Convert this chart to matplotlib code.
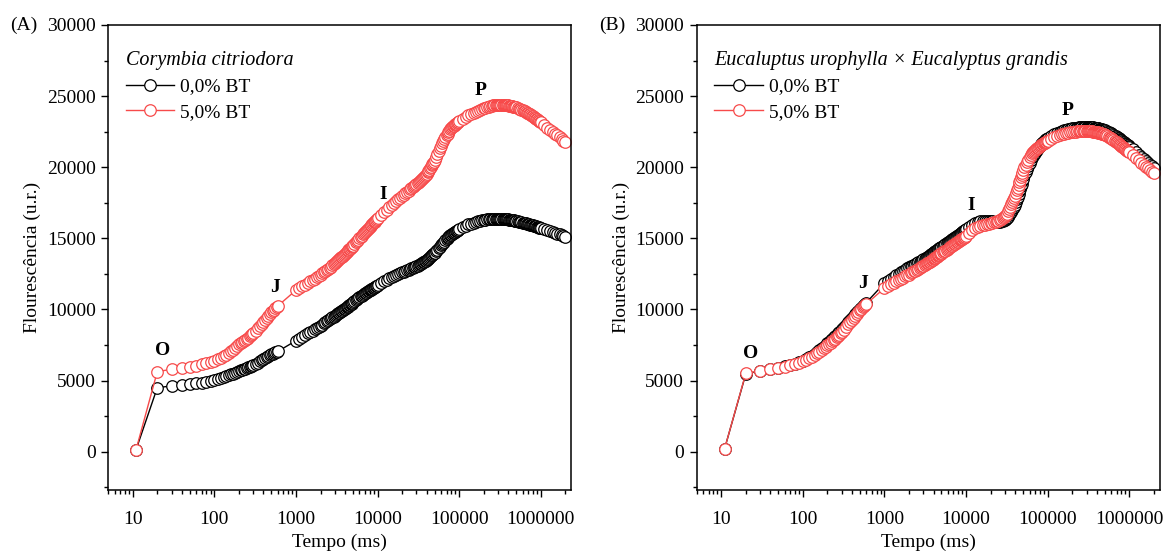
import numpy as np
import matplotlib.pyplot as plt
from matplotlib.ticker import MultipleLocator, LogLocator, FuncFormatter, NullFormatter

plt.rcParams['font.family'] = ['Liberation Serif', 'DejaVu Serif']
plt.rcParams['font.size'] = 14
plt.rcParams['mathtext.default'] = 'regular'

# sampling schedule of the fluorometer (ms)
t_ms = np.concatenate([[11], np.arange(20, 301, 10), np.arange(320, 601, 20),
                       np.arange(1000, 5001, 100), np.arange(5200, 10001, 200),
                       np.arange(11000, 50001, 1000), np.arange(52000, 100001, 2000),
                       np.arange(110000, 500001, 10000), np.arange(520000, 1000001, 20000),
                       np.arange(1100000, 2000001, 100000)])

# (A) Corymbia citriodora, 0,0% BT
a_bt0 = [150, 4500, 4620, 4690, 4750, 4800, 4860, 4920, 4980, 5050, 5120, 5190, 5250, 5310, 5370,
         5430, 5490, 5550, 5610, 5670, 5720, 5760, 5800, 5840, 5880, 5920, 5960, 6000, 6040, 6080,
         6170, 6260, 6350, 6440, 6520, 6590, 6660, 6720, 6780, 6840, 6890, 6940, 6980, 7020, 7050,
         7800, 7940, 8080, 8200, 8310, 8420, 8510, 8610, 8690, 8780, 8850, 8940, 9020, 9100, 9170,
         9240, 9310, 9370, 9440, 9500, 9560, 9610, 9670, 9730, 9770, 9830, 9870, 9920, 9970, 10010,
         10060, 10110, 10150, 10200, 10240, 10290, 10330, 10370, 10410, 10460, 10500,
         10570, 10640, 10720, 10780, 10850, 10910, 10970, 11030, 11080, 11130, 11180, 11230, 11270,
         11320, 11360, 11400, 11430, 11470, 11500, 11540, 11570, 11610, 11640, 11670, 11700,
         11840, 11980, 12090, 12190, 12280, 12360, 12430, 12490, 12550, 12600,
         12660, 12710, 12760, 12800, 12850, 12890, 12930, 12970, 13000, 13040,
         13080, 13120, 13170, 13210, 13250, 13300, 13340, 13380, 13420, 13460,
         13520, 13580, 13630, 13690, 13740, 13800, 13850, 13900, 13950, 13990,
         14100, 14210, 14310, 14410, 14510, 14600, 14690, 14770, 14850, 14920, 14990, 15060, 15140,
         15200, 15260, 15310, 15350, 15390, 15430, 15470, 15510, 15540, 15580, 15610, 15650,
         15770, 15890, 15980, 16040, 16100, 16160, 16200, 16230, 16270, 16300,
         16320, 16330, 16340, 16360, 16370, 16370, 16370, 16380, 16380, 16380,
         16380, 16380, 16370, 16360, 16360, 16350, 16350, 16340, 16330, 16330,
         16320, 16310, 16300, 16290, 16280, 16270, 16260, 16250, 16240, 16230,
         16210, 16180, 16160, 16140, 16110, 16090, 16070, 16050, 16030, 16010, 15990, 15970, 15950,
         15930, 15910, 15890, 15870, 15860, 15840, 15820, 15800, 15780, 15760, 15750, 15730,
         15640, 15560, 15490, 15430, 15380, 15320, 15270, 15210, 15160, 15120]

# (A) Corymbia citriodora, 5,0% BT
a_bt5 = [150, 5630, 5790, 5870, 5950, 6040, 6130, 6220, 6300, 6380, 6490, 6600, 6710, 6820, 6930,
         7060, 7180, 7300, 7420, 7540, 7620, 7700, 7780, 7860, 7940, 8020, 8100, 8180, 8250, 8320,
         8490, 8660, 8830, 8990, 9140, 9280, 9420, 9550, 9670, 9790, 9890, 9990, 10080, 10170, 10250,
         11350, 11490, 11630, 11750, 11860, 11970, 12070, 12170, 12270, 12370, 12450, 12540, 12620,
         12700, 12770, 12840, 12930, 13000, 13090, 13160, 13240, 13300, 13380, 13450, 13520, 13590,
         13660, 13720, 13790, 13850, 13910, 13980, 14040, 14100, 14160, 14220, 14280, 14330, 14390,
         14440, 14490,
         14600, 14710, 14810, 14910, 15010, 15100, 15190, 15280, 15360, 15440, 15520, 15600, 15680,
         15750, 15820, 15880, 15940, 16000, 16060, 16120, 16180, 16240, 16290, 16350, 16400,
         16630, 16830, 17020, 17180, 17330, 17470, 17600, 17730, 17850, 17960,
         18060, 18160, 18260, 18350, 18440, 18520, 18590, 18660, 18730, 18800,
         18860, 18930, 19010, 19090, 19160, 19240, 19310, 19380, 19450, 19520,
         19630, 19730, 19830, 19930, 20030, 20130, 20220, 20310, 20400, 20490,
         20710, 20920, 21120, 21320, 21510, 21700, 21860, 21990, 22110, 22230, 22340, 22460, 22570,
         22670, 22770, 22820, 22870, 22920, 22970, 23020, 23070, 23120, 23160, 23210, 23250,
         23390, 23530, 23640, 23740, 23830, 23910, 23980, 24040, 24100, 24150,
         24190, 24230, 24260, 24290, 24330, 24340, 24350, 24360, 24370, 24380,
         24390, 24400, 24390, 24380, 24380, 24370, 24370, 24360, 24350, 24350,
         24330, 24320, 24300, 24290, 24270, 24260, 24240, 24230, 24210, 24200,
         24160, 24120, 24080, 24040, 24000, 23970, 23930, 23880, 23830, 23790, 23750, 23710, 23670,
         23630, 23590, 23540, 23490, 23450, 23400, 23360, 23310, 23270, 23230, 23190, 23150,
         22970, 22790, 22640, 22490, 22360, 22230, 22100, 21980, 21860, 21750]

# (B) E. urophylla x E. grandis, 0,0% BT
b_bt0 = [200, 5460, 5680, 5790, 5900, 5990, 6080, 6180, 6280, 6390, 6510, 6630, 6760, 6890, 7020,
         7140, 7260, 7380, 7500, 7610, 7720, 7830, 7930, 8030, 8130, 8230, 8320, 8410, 8500, 8590,
         8770, 8940, 9110, 9270, 9420, 9560, 9690, 9810, 9920, 10020, 10120, 10210, 10300, 10390, 10480,
         11850, 12010, 12170, 12300, 12410, 12520, 12610, 12710, 12790, 12880, 12950, 13020, 13080,
         13140, 13190, 13240, 13300, 13360, 13410, 13470, 13520, 13570, 13620, 13680, 13720, 13780,
         13820, 13870, 13920, 13960, 14010, 14050, 14090, 14130, 14170, 14210, 14250, 14290, 14320,
         14360, 14400,
         14460, 14530, 14590, 14650, 14710, 14770, 14820, 14880, 14930, 14980, 15030, 15080, 15120,
         15170, 15210, 15260, 15310, 15350, 15400, 15440, 15490, 15530, 15570, 15610, 15650,
         15810, 15970, 16080, 16140, 16200, 16250, 16240, 16220, 16210, 16200,
         16190, 16180, 16170, 16160, 16150, 16180, 16210, 16240, 16270, 16300,
         16330, 16400, 16530, 16640, 16770, 16880, 17000, 17110, 17210, 17340,
         17550, 17740, 17930, 18120, 18310, 18500, 18670, 18840, 19010, 19180,
         19430, 19660, 19900, 20110, 20330, 20530, 20700, 20820, 20930, 21030, 21130, 21240, 21340,
         21430, 21520, 21580, 21630, 21690, 21740, 21800, 21850, 21900, 21950, 22000, 22050,
         22190, 22330, 22430, 22490, 22550, 22610, 22650, 22680, 22720, 22750,
         22770, 22780, 22790, 22810, 22820, 22820, 22820, 22820, 22830, 22830,
         22830, 22830, 22820, 22810, 22800, 22800, 22790, 22780, 22780, 22770,
         22750, 22730, 22710, 22700, 22680, 22660, 22650, 22630, 22620, 22600,
         22550, 22500, 22460, 22410, 22370, 22320, 22280, 22220, 22170, 22120, 22070, 22020, 21980,
         21930, 21890, 21840, 21790, 21750, 21700, 21660, 21610, 21570, 21530, 21490, 21450,
         21250, 21060, 20880, 20720, 20570, 20430, 20300, 20180, 20060, 19950]

# (B) E. urophylla x E. grandis, 5,0% BT
b_bt5 = [200, 5500, 5690, 5790, 5900, 5980, 6070, 6160, 6250, 6350, 6460, 6570, 6690, 6810, 6930,
         7040, 7150, 7260, 7370, 7470, 7570, 7670, 7770, 7860, 7950, 8040, 8130, 8220, 8310, 8400,
         8580, 8760, 8950, 9120, 9280, 9430, 9570, 9700, 9820, 9940, 10050, 10150, 10230, 10310, 10380,
         11500, 11640, 11780, 11890, 11990, 12080, 12160, 12240, 12320, 12390, 12450, 12530, 12600,
         12670, 12730, 12790, 12850, 12910, 12960, 13020, 13070, 13120, 13170, 13230, 13270, 13330,
         13370, 13420, 13470, 13510, 13560, 13600, 13640, 13680, 13720, 13760, 13800, 13840, 13870,
         13910, 13950,
         14010, 14080, 14140, 14200, 14260, 14320, 14370, 14430, 14480, 14530, 14580, 14630, 14670,
         14720, 14760, 14810, 14850, 14890, 14930, 14970, 15010, 15040, 15080, 15110, 15150,
         15380, 15580, 15730, 15800, 15870, 15930, 15960, 15990, 16020, 16050,
         16090, 16120, 16160, 16190, 16220, 16280, 16350, 16420, 16490, 16550,
         16610, 16720, 16900, 17050, 17220, 17380, 17530, 17690, 17830, 17990,
         18190, 18380, 18560, 18750, 18930, 19120, 19280, 19450, 19620, 19780,
         19980, 20170, 20350, 20520, 20700, 20860, 20980, 21060, 21120, 21190, 21250, 21320, 21380,
         21440, 21490, 21530, 21570, 21610, 21650, 21690, 21730, 21760, 21800, 21830, 21870,
         21980, 22090, 22180, 22240, 22300, 22360, 22390, 22420, 22450, 22480,
         22500, 22510, 22520, 22540, 22550, 22550, 22550, 22550, 22550, 22550,
         22550, 22550, 22540, 22530, 22520, 22510, 22500, 22490, 22490, 22480,
         22450, 22430, 22410, 22390, 22370, 22350, 22340, 22320, 22300, 22280,
         22230, 22170, 22120, 22070, 22020, 21980, 21920, 21860, 21800, 21750, 21690, 21640, 21590,
         21540, 21490, 21440, 21390, 21350, 21300, 21260, 21210, 21170, 21130, 21090, 21050,
         20850, 20660, 20480, 20320, 20170, 20030, 19920, 19800, 19690, 19600]

series_labels = ["0,0% BT", "5,0% BT"]
colors = ["black", "#f74a4a"]
phase_names = ["O", "J", "I", "P"]
phase_times = [20, 600, 10000, 200000]

panels = [
    dict(tag="(A)", title="Corymbia citriodora", data=[a_bt0, a_bt5],
         left=0.093, phase_ref=[1, 1, 1, 1],
         offsets=[(4, 15), (-2, 13.5), (4, 17.5), (-2.5, 12.5)]),
    dict(tag="(B)", title="Eucaluptus urophylla × Eucalyptus grandis", data=[b_bt0, b_bt5],
         left=0.599, phase_ref=[1, 1, 1, 0],
         offsets=[(3.7, 14.3), (-2.5, 15), (3.7, 22), (-3.2, 12.6)]),
]

fig = plt.figure(figsize=(11.63, 5.55), dpi=100)

for p in panels:
    ax = fig.add_axes([p["left"], 0.117, 0.398, 0.838])
    handles = []
    for ys, lab, c in zip(p["data"], series_labels, colors):
        h, = ax.plot(t_ms, ys, '-o', color=c, lw=1.0, ms=8.3, mew=0.9,
                     mfc='white', mec=c, label=lab)
        handles.append(h)
    ax.set_xscale('log')
    ax.set_xlim(5, 2.35e6)
    ax.set_ylim(-2700, 30000)
    ax.yaxis.set_major_locator(MultipleLocator(5000))
    ax.yaxis.set_minor_locator(MultipleLocator(2500))
    ax.xaxis.set_major_locator(LogLocator(base=10, numticks=12))
    ax.xaxis.set_minor_locator(LogLocator(base=10, subs=np.arange(2, 10), numticks=12))
    ax.xaxis.set_major_formatter(FuncFormatter(lambda v, pos: "%d" % round(v)))
    ax.xaxis.set_minor_formatter(NullFormatter())
    ax.tick_params(which='both', direction='out', top=False, right=False, width=1.0)
    ax.tick_params(which='major', length=5, labelsize=14, pad=4)
    ax.tick_params(axis='x', which='major', pad=10)
    ax.tick_params(which='minor', length=3)
    for s in ax.spines.values():
        s.set_linewidth(1.1)
    ax.set_xlabel("Tempo (ms)", fontsize=14, labelpad=4)
    ax.set_ylabel("Flourescência (u.r.)", fontsize=14, labelpad=4)

    leg = ax.legend(handles=handles, loc='upper left', bbox_to_anchor=(0.038, 0.945),
                    frameon=False, fontsize=14, title=p["title"],
                    title_fontproperties={'style': 'italic', 'size': 14.5},
                    alignment='left', handlelength=2.5, handletextpad=0.3,
                    labelspacing=0.42, borderpad=0, borderaxespad=0)

    for name, tt, ref, off in zip(phase_names, phase_times, p["phase_ref"], p["offsets"]):
        i = int(np.where(t_ms == tt)[0][0])
        ax.annotate(name, xy=(t_ms[i], p["data"][ref][i]), xytext=off,
                    textcoords='offset points', ha='center', va='center',
                    fontsize=14, fontweight='bold')

    fig.text(p["left"] - 0.084, 0.955, p["tag"], fontsize=14, va='center', ha='left')

fig.savefig("out.png", dpi=100)
